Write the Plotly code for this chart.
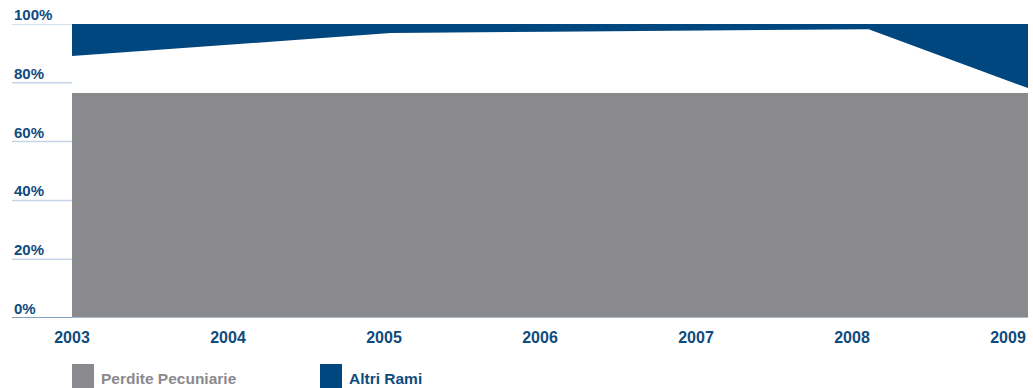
import plotly.graph_objects as go

years = [2003, 2004, 2005, 2006, 2007, 2008, 2009]
perdite_pecuniarie = [76.5, 76.5, 76.5, 76.5, 76.5, 76.5, 76.5]
altri_rami_lower = [89.1, 93.0, 96.9, 97.4, 97.8, 98.2, 78.2]
altri_rami_upper = [100, 100, 100, 100, 100, 100, 100]
y_ticks = [0, 20, 40, 60, 80, 100]
y_tick_labels = ["0%", "20%", "40%", "60%", "80%", "100%"]
year_labels = ["2003", "2004", "2005", "2006", "2007", "2008", "2009"]
legend_names = ["Perdite Pecuniarie", "Altri Rami"]

GRAY = "#8a898e"
BLUE = "#00467f"
LABEL_BLUE = "#0f4a7e"
GRID = "#c5d4e8"
FONT = "Liberation Sans"

fig = go.Figure()
fig.add_trace(go.Scatter(x=years, y=perdite_pecuniarie, mode="lines", line=dict(width=0),
                         fill="tozeroy", fillcolor=GRAY, name=legend_names[0], hoverinfo="skip"))
fig.add_trace(go.Scatter(x=years, y=altri_rami_lower, mode="lines", line=dict(width=0),
                         showlegend=False, hoverinfo="skip"))
fig.add_trace(go.Scatter(x=years, y=altri_rami_upper, mode="lines", line=dict(width=0),
                         fill="tonexty", fillcolor=BLUE, name=legend_names[1], hoverinfo="skip"))

# tick label positions slightly compressed relative to data (as in the reference)
label_step = 156 / 159.33
tickvals = [years[0] + i * label_step for i in range(len(years))]

left_x = -60 / 956
shapes = []
annotations = []
for v, t in zip(y_ticks, y_tick_labels):
    shapes.append(dict(type="line", xref="paper", yref="y", x0=left_x, x1=0, y0=v, y1=v,
                       line=dict(color="#5a82b0" if v == 0 else GRID, width=1.5)))
    annotations.append(dict(xref="paper", yref="y", x=left_x, y=v, xanchor="left", yanchor="bottom",
                            text=f"<b>{t}</b>", showarrow=False,
                            font=dict(family=FONT, size=15, color=LABEL_BLUE), yshift=-1))
shapes.append(dict(type="line", xref="paper", yref="y", x0=0, x1=1, y0=0, y1=0,
                   line=dict(color="#b8cde2", width=1.5)))

# legend (custom)
legend_items = [(legend_names[0], GRAY, "#8a898e", 0.0), (legend_names[1], BLUE, LABEL_BLUE, 248 / 956)]
for name, col, tcol, x0 in legend_items:
    shapes.append(dict(type="rect", xref="paper", yref="paper", x0=x0, x1=x0 + 22 / 956,
                       y0=-72 / 294, y1=-46 / 294, fillcolor=col, line=dict(width=0)))
    annotations.append(dict(xref="paper", yref="paper", x=x0 + 27 / 956, y=-71 / 294,
                            xanchor="left", yanchor="bottom", text=f"<b>{name}</b>", showarrow=False,
                            font=dict(family=FONT, size=15.5, color=tcol)))

fig.update_layout(
    width=1033, height=388,
    margin=dict(l=72, r=5, t=24, b=70, autoexpand=False),
    plot_bgcolor="white", paper_bgcolor="white",
    showlegend=False,
    shapes=shapes, annotations=annotations,
    xaxis=dict(range=[2003, 2009], tickvals=tickvals, ticktext=[f"<b>{y}</b>" for y in year_labels],
               showgrid=False, zeroline=False, showline=False, ticks="", automargin=False,
               tickfont=dict(family=FONT, size=16, color=LABEL_BLUE), ticklabelstandoff=8),
    yaxis=dict(range=[0, 100], showgrid=False, zeroline=False, showline=False, automargin=False,
               showticklabels=False, ticks=""),
)

fig.write_html("out.html", config={"displayModeBar": False},
               post_script="document.body.style.margin='0';document.body.style.overflow='hidden';")
